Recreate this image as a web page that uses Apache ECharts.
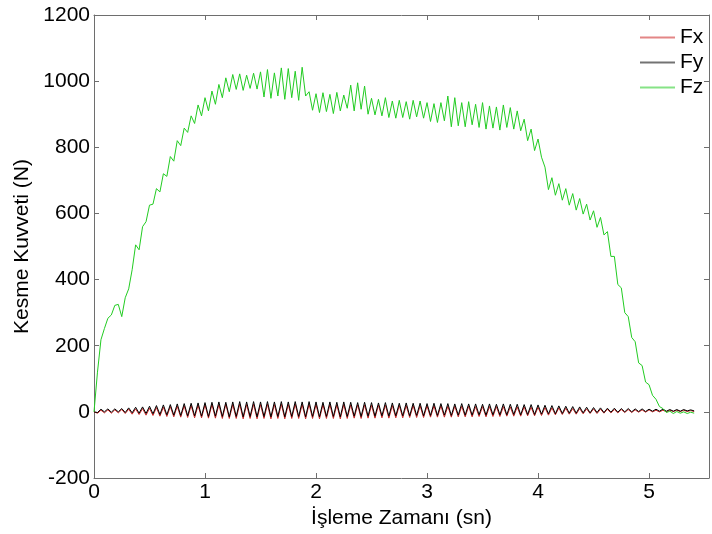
<!DOCTYPE html>
<html>
<head>
<meta charset="utf-8">
<script src="https://cdn.jsdelivr.net/npm/echarts@6/dist/echarts.min.js"></script>
<style>
html,body{margin:0;padding:0;background:#fff;}
#chart{width:712px;height:534px;}
</style>
</head>
<body>
<div id="chart"></div>
<script>
// ---- data ----
const SAMPLE_DT = 0.03125; // sampling interval of the recorded signals, seconds
const seriesNames = ['Fx', 'Fy', 'Fz'];
const xTicks = [0, 1, 2, 3, 4, 5];
const yTicks = [-200, 0, 200, 400, 600, 800, 1000, 1200];

const fxValues = [
  0,-4,5,-3,6,-4,6,-3,7,-5,
  8,-7,9,-8,10,-10,11,-11,13,-13,
  14,-14,16,-15,17,-16,18,-17,19,-18,
  20,-18,21,-19,22,-19,22,-20,23,-20,
  22,-20,23,-21,22,-20,23,-21,22,-20,
  23,-21,22,-20,23,-21,22,-20,23,-20,
  22,-21,23,-20,22,-21,22,-20,22,-20,
  21,-21,22,-20,21,-19,21,-20,21,-19,
  20,-19,20,-18,20,-19,19,-18,19,-18,
  19,-17,19,-17,18,-17,18,-16,18,-16,
  18,-16,17,-16,17,-15,17,-15,17,-15,
  16,-14,16,-15,16,-14,16,-14,16,-13,
  15,-13,15,-13,15,-12,14,-12,14,-11,
  13,-10,12,-9,12,-8,11,-7,10,-7,
  10,-6,9,-5,9,-5,8,-4,8,-3,
  7,-3,7,-2,7,-2,6,-1,6,-1,
  6,0,5,0,5,0,5,1,5,1,
  5,1,4,1
];

const fyValues = [
  0,-2,8,0,9,-1,9,0,10,-2,
  12,-3,14,-4,15,-5,17,-6,19,-8,
  21,-9,22,-10,24,-11,25,-12,26,-12,
  27,-13,28,-14,29,-13,30,-14,29,-15,
  30,-14,31,-15,30,-14,31,-15,30,-14,
  31,-15,30,-14,31,-15,30,-14,31,-14,
  30,-15,31,-14,30,-15,29,-14,30,-14,
  29,-15,30,-14,29,-13,28,-14,29,-13,
  28,-13,27,-12,28,-13,27,-12,26,-12,
  27,-12,26,-11,26,-12,25,-11,26,-11,
  25,-10,25,-11,24,-10,25,-10,24,-10,
  24,-9,23,-10,24,-9,23,-9,24,-9,
  23,-8,23,-9,22,-8,22,-8,21,-7,
  20,-6,19,-6,18,-5,17,-4,16,-4,
  15,-3,14,-3,13,-2,12,-2,11,-1,
  11,-1,10,0,10,0,9,1,9,1,
  8,2,8,2,8,2,7,2,7,2,
  7,3,6,3
];

const fzValues = [
  0,120,218,252,283,293,322,325,288,345,
  372,430,505,490,560,575,625,628,675,665,
  720,712,772,758,820,805,858,845,895,872,
  928,895,950,910,970,930,990,950,1010,968,
  1020,975,1022,972,1018,978,1024,976,1028,952,
  1035,948,1025,955,1040,945,1038,950,1030,942,
  1042,955,968,912,962,905,965,908,960,902,
  966,910,958,918,988,910,995,915,985,900,
  948,898,945,895,950,890,940,888,942,890,
  938,885,942,892,940,888,935,878,932,875,
  935,880,955,862,950,865,935,862,938,868,
  930,860,935,855,925,858,922,852,928,860,
  920,855,910,850,885,820,855,790,825,770,
  740,672,708,655,690,640,675,625,660,610,
  645,598,628,580,608,558,588,535,545,470,
  470,385,375,300,288,225,212,148,140,90,
  82,50,38,16,10,-2,2,-5,1,-4,
  0,-5,-1,-4
];

// ---- chart ----
function toPairs(vals) {
  return vals.map((v, i) => [i * SAMPLE_DT, v]);
}
const FONT = "'Liberation Sans', Arial, sans-serif";
const AXIS_COLOR = '#6e6e6e';
const X_MIN = xTicks[0], X_MAX = 5.54, X_INT = xTicks[1] - xTicks[0];
const Y_MIN = yTicks[0], Y_MAX = yTicks[yTicks.length - 1], Y_INT = yTicks[1] - yTicks[0];
const COLORS = ['#cc2222', '#000000', '#22cc22'];

const tickStyle = { show: true, inside: true, length: 5, lineStyle: { color: AXIS_COLOR } };
const lineStyle = { show: true, onZero: false, lineStyle: { color: AXIS_COLOR, width: 1 } };

const chart = echarts.init(document.getElementById('chart'), null, { renderer: 'canvas' });
chart.setOption({
  animation: false,
  backgroundColor: '#fff',
  color: COLORS,
  textStyle: { fontFamily: FONT },
  grid: { left: 94, right: 1, top: 15, bottom: 56, containLabel: false },
  legend: {
    orient: 'vertical',
    left: 640,
    top: 27,
    padding: 0,
    itemWidth: 35,
    itemHeight: 2,
    itemGap: 4,
    icon: 'rect',
    itemStyle: { opacity: 0.55 },
    data: seriesNames,
    textStyle: { fontFamily: FONT, fontSize: 21, color: '#000', lineHeight: 21 }
  },
  xAxis: [
    {
      type: 'value', position: 'bottom', min: X_MIN, max: X_MAX, interval: X_INT,
      axisLine: lineStyle, axisTick: tickStyle, splitLine: { show: false },
      axisLabel: {
        fontFamily: FONT, fontSize: 21, color: '#000', margin: 4,
        formatter: v => (xTicks.indexOf(v) >= 0 ? String(v) : '')
      },
      name: 'İşleme Zamanı (sn)', nameLocation: 'middle', nameGap: 30,
      nameTextStyle: { fontFamily: FONT, fontSize: 21, color: '#000' }
    },
    {
      type: 'value', position: 'top', min: X_MIN, max: X_MAX, interval: X_INT,
      axisLine: lineStyle, axisTick: tickStyle, splitLine: { show: false },
      axisLabel: { show: false }
    }
  ],
  yAxis: [
    {
      type: 'value', position: 'left', min: Y_MIN, max: Y_MAX, interval: Y_INT,
      axisLine: lineStyle, axisTick: tickStyle, splitLine: { show: false },
      axisLabel: { fontFamily: FONT, fontSize: 21, color: '#000', margin: 4, formatter: v => String(v) },
      name: 'Kesme Kuvveti (N)', nameLocation: 'middle', nameGap: 48, nameRotate: 90,
      nameTextStyle: { fontFamily: FONT, fontSize: 21, color: '#000' }
    },
    {
      type: 'value', position: 'right', min: Y_MIN, max: Y_MAX, interval: Y_INT,
      axisLine: lineStyle, axisTick: tickStyle, splitLine: { show: false },
      axisLabel: { show: false }
    }
  ],
  series: [
    { name: 'Fx', type: 'line', data: toPairs(fxValues), symbol: 'none',
      lineStyle: { width: 1 }, z: 2 },
    { name: 'Fy', type: 'line', data: toPairs(fyValues), symbol: 'none',
      lineStyle: { width: 1 }, z: 3 },
    { name: 'Fz', type: 'line', data: toPairs(fzValues), symbol: 'none',
      lineStyle: { width: 1 }, z: 4 }
  ]
});
</script>
</body>
</html>
